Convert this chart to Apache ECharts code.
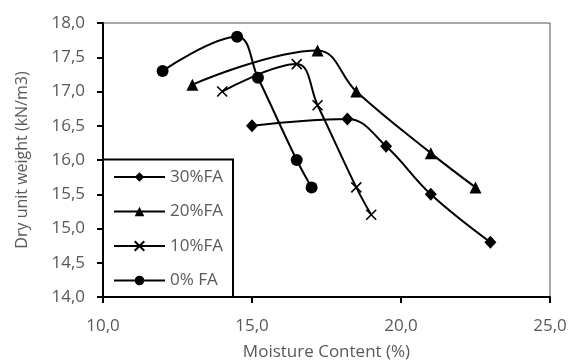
<!DOCTYPE html>
<html><head><meta charset="utf-8">
<script src="https://cdn.jsdelivr.net/npm/echarts@6/dist/echarts.min.js"></script>
<style>html,body{margin:0;padding:0;background:#fff}#c{width:571px;height:360px}</style>
</head><body><div id="c"></div>
<script>
const seriesNames = ['30%FA', '20%FA', '10%FA', '0% FA'];
const fa30 = [[15.0, 16.5], [18.2, 16.6], [19.5, 16.2], [21.0, 15.5], [23.0, 14.8]];
const fa20 = [[13.0, 17.1], [17.2, 17.6], [18.5, 17.0], [21.0, 16.1], [22.5, 15.6]];
const fa10 = [[14.0, 17.0], [16.5, 17.4], [17.2, 16.8], [18.5, 15.6], [19.0, 15.2]];
const fa0 = [[12.0, 17.3], [14.5, 17.8], [15.2, 17.2], [16.5, 16.0], [17.0, 15.6]];
const xTicks = [10, 15, 20, 25];
const yTicks = [14, 14.5, 15, 15.5, 16, 16.5, 17, 17.5, 18];

const fmt = v => v.toFixed(1).replace('.', ',');
const symbols = ['diamond', 'triangle', 'path://M0,0L10,10M10,0L0,10', 'circle'];
const sizes = [[12, 13], 12, 10, 12];
const datas = [fa30, fa20, fa10, fa0];
const font = 'Open Sans';

const chart = echarts.init(document.getElementById('c'), null, {renderer: 'canvas'});
chart.setOption({
  animation: false,
  grid: {left: 103, right: 21, top: 23, bottom: 63, show: true, borderColor: '#505050', borderWidth: 1,
         containLabel: false, outerBoundsMode: 'none'},
  xAxis: {
    type: 'value', min: 10, max: 25, interval: 5,
    axisLine: {lineStyle: {color: '#000', width: 2}},
    axisTick: {show: true, length: 6, lineStyle: {color: '#000', width: 2}},
    axisLabel: {formatter: fmt, color: '#595959', fontSize: 17, fontFamily: font, margin: 21},
    splitLine: {show: false},
    name: 'Moisture Content (%)', nameLocation: 'middle', nameGap: 47,
    nameTextStyle: {color: '#595959', fontSize: 17, fontFamily: font}
  },
  yAxis: {
    type: 'value', min: 14, max: 18, interval: 0.5,
    axisLine: {lineStyle: {color: '#000', width: 2}},
    axisTick: {show: true, length: 6, lineStyle: {color: '#000', width: 2}},
    axisLabel: {formatter: fmt, color: '#595959', fontSize: 17, fontFamily: font, margin: 18},
    splitLine: {show: false},
    name: 'Dry unit weight (kN/m3)', nameLocation: 'middle', nameGap: 73,
    nameTextStyle: {color: '#595959', fontSize: 16, fontFamily: font}
  },
  legend: {
    data: seriesNames, orient: 'vertical', left: 103, bottom: 63,
    backgroundColor: '#fff', borderColor: '#000', borderWidth: 2,
    padding: [9, 10, 8, 10], itemGap: 17.5, itemWidth: 51, itemHeight: 12,
    textStyle: {color: '#595959', fontSize: 17, fontFamily: font}
  },
  series: seriesNames.map((n, i) => ({
    name: n, type: 'line', data: datas[i], smooth: 0.4,
    symbol: symbols[i], symbolSize: sizes[i], showSymbol: true,
    lineStyle: {color: '#000', width: 2},
    itemStyle: {color: '#000', borderColor: '#000', borderWidth: i === 2 ? 1.6 : 0}
  }))
});
</script></body></html>
